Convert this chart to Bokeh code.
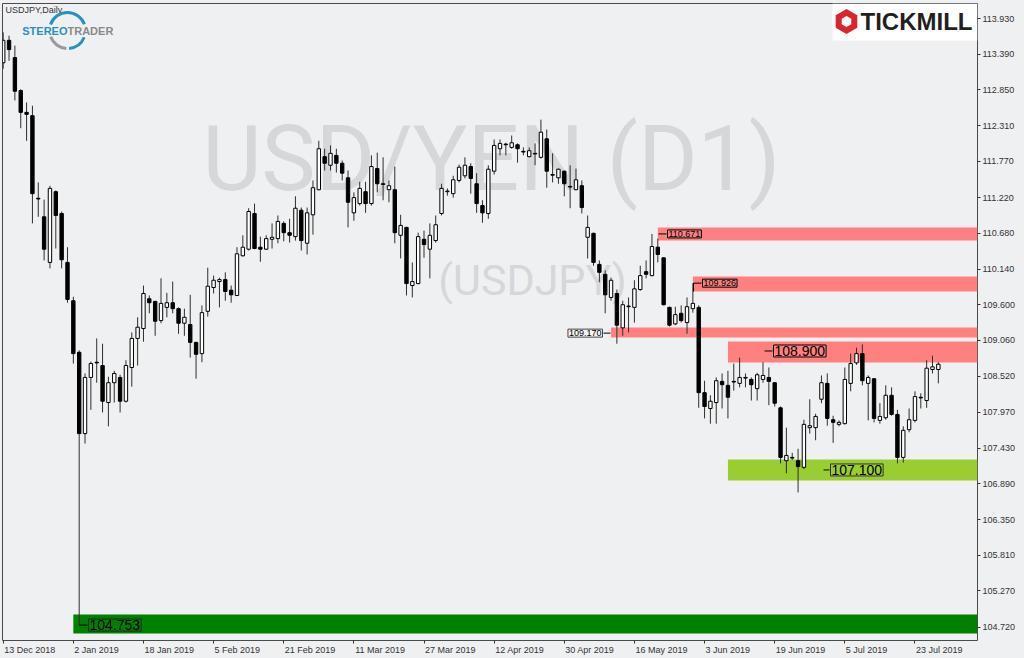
from bokeh.plotting import figure
from bokeh.models import (Range1d, FixedTicker, PrintfTickFormatter, BoxAnnotation, Label,
                          ColumnDataSource, LinearAxis, CustomJSTickFormatter)
from bokeh.core.properties import value
from bokeh.embed import file_html
from bokeh.resources import INLINE

# ---------------- data (USDJPY daily) ----------------
opens = [113.26,113.60,113.34,112.84,112.51,112.46,111.21,110.93,110.24,111.31,
110.98,110.24,109.66,108.88,107.65,108.50,108.73,108.68,108.12,108.42,
108.50,108.14,108.65,109.09,109.24,109.69,109.65,109.36,109.56,109.63,
109.54,109.32,109.30,109.03,108.86,109.50,109.86,109.95,109.98,109.82,
109.74,110.34,110.44,110.98,110.47,110.44,110.59,110.60,110.83,110.69,
110.63,111.03,110.53,110.96,111.34,111.84,111.71,111.86,111.74,111.52,
110.99,111.13,111.31,111.13,111.66,111.43,111.34,111.34,110.65,110.77,
109.89,109.92,110.59,110.44,110.57,110.98,111.31,111.28,111.48,111.55,
111.69,111.43,111.10,110.98,111.62,111.96,112.03,111.98,112.02,111.92,
111.84,111.89,111.83,112.11,111.57,111.52,111.62,111.39,111.34,111.40,
110.62,110.68,110.21,110.06,109.71,109.77,109.25,109.57,109.56,109.83,
110.10,110.04,110.47,110.31,109.56,109.31,109.47,109.33,109.54,109.56,
108.27,108.03,108.12,108.44,108.38,108.44,108.41,108.50,108.47,108.33,
108.47,108.50,108.42,108.04,107.24,107.29,107.24,107.14,107.74,107.74,
108.17,108.41,107.86,107.79,107.80,108.41,108.72,108.86,108.41,108.48,
107.85,107.89,108.23,107.94,107.29,107.71,107.85,108.20,108.15,108.62,
108.62]

highs = [113.72,113.67,113.52,112.86,112.66,112.61,111.45,111.19,111.40,111.33,
111.01,110.47,109.72,108.91,108.56,108.74,109.09,109.01,108.51,108.60,
108.54,108.76,109.18,109.41,109.89,109.74,109.66,110.00,109.78,109.95,
109.56,109.54,109.75,109.04,109.59,110.16,110.04,110.01,110.09,109.89,
110.47,110.65,111.06,111.13,110.63,110.65,110.83,110.95,110.86,110.90,
111.24,111.07,111.07,111.48,112.08,111.96,112.01,111.96,111.78,111.63,
111.30,111.46,111.46,111.86,111.90,111.83,111.48,111.69,110.96,110.78,
110.24,110.69,110.72,110.83,110.95,111.43,111.36,111.55,111.72,111.83,
111.74,111.59,111.18,111.71,112.10,112.10,112.05,112.16,112.04,111.98,
111.98,112.04,112.40,112.25,111.89,111.66,111.63,111.71,111.66,111.48,
110.95,110.69,110.27,110.12,110.01,109.83,109.66,109.71,109.97,110.19,
110.27,110.671,110.60,110.32,109.57,109.57,109.59,109.71,109.926,109.59,
108.45,108.23,108.50,108.56,108.60,108.71,108.80,108.56,108.50,108.57,
108.73,108.65,108.43,108.06,107.74,107.36,107.42,107.86,108.17,107.95,
108.53,108.56,107.92,107.85,108.65,108.86,108.95,109.00,108.53,108.49,
108.11,108.38,108.35,108.01,107.76,108.03,108.29,108.26,108.76,108.83,
108.73]

lows = [113.17,113.29,112.69,112.27,112.08,110.83,110.93,110.27,110.15,110.45,
110.15,109.63,108.71,104.753,107.50,108.01,108.42,107.97,107.76,108.12,
107.97,108.12,108.36,108.68,109.04,109.47,109.13,109.32,109.41,109.47,
109.16,109.13,108.80,108.48,108.73,109.42,109.77,109.56,109.66,109.63,
109.73,110.33,110.42,110.44,110.25,110.43,110.45,110.53,110.56,110.54,
110.57,110.42,110.36,110.66,111.33,111.63,111.63,111.60,111.48,110.77,
110.87,111.10,110.99,111.10,111.30,111.18,111.15,110.53,110.30,109.74,
109.71,109.91,110.31,110.00,110.54,110.95,111.25,111.22,111.45,111.51,
111.28,110.99,110.84,110.90,111.57,111.86,111.86,111.96,111.75,111.86,
111.83,111.71,111.81,111.37,111.45,111.43,111.24,111.06,111.33,110.98,
110.30,110.19,109.94,109.47,109.66,109.01,109.13,109.18,109.33,109.81,
110.00,110.03,110.24,109.59,109.27,109.29,109.33,109.16,109.48,108.04,
107.88,107.80,107.80,108.03,107.88,108.30,108.35,108.35,108.15,108.15,
108.42,108.08,108.06,107.20,107.05,107.25,106.76,107.11,107.65,107.55,
108.11,107.77,107.51,107.76,107.79,108.29,108.69,108.38,107.85,107.82,
107.80,107.86,107.92,107.20,107.21,107.67,107.82,108.03,108.04,108.56,
108.41]

closes = [113.60,113.46,112.83,112.51,112.48,111.28,111.20,110.44,111.36,110.95,
110.28,109.68,108.86,107.65,108.50,108.71,108.72,108.14,108.42,108.56,
108.14,108.68,109.09,109.26,109.77,109.63,109.35,109.62,109.63,109.54,
109.32,109.41,109.03,108.85,109.48,109.88,109.97,109.98,109.80,109.75,
110.37,110.47,111.01,110.45,110.44,110.60,110.62,110.86,110.69,110.65,
111.06,110.57,110.99,111.37,111.96,111.74,111.89,111.74,111.59,111.15,
111.22,111.36,111.13,111.69,111.43,111.42,111.40,110.69,110.80,109.92,
109.95,110.63,110.51,110.65,110.81,111.36,111.32,111.49,111.68,111.71,
111.51,111.13,110.99,111.65,112.01,112.04,112.02,112.05,111.96,111.91,
111.93,111.88,112.21,111.62,111.56,111.65,111.43,111.38,111.49,111.07,
110.77,110.24,110.09,109.75,109.97,109.29,109.60,109.58,109.84,110.04,
110.06,110.48,110.36,109.60,109.29,109.45,109.36,109.57,109.62,108.27,
108.06,108.14,108.45,108.39,108.20,108.43,108.50,108.49,108.39,108.54,
108.53,108.44,108.11,107.29,107.32,107.28,107.15,107.79,107.77,107.91,
108.42,107.88,107.82,107.82,108.47,108.71,108.86,108.45,108.50,107.88,
107.91,108.23,107.94,107.29,107.70,107.86,108.21,108.19,108.64,108.66,
108.70]

date_ticks = [0, 12, 24, 36, 48, 60, 72, 84, 96, 108, 120, 132, 144, 156]
date_labels = ["13 Dec 2018", "2 Jan 2019", "18 Jan 2019", "5 Feb 2019", "21 Feb 2019",
               "11 Mar 2019", "27 Mar 2019", "12 Apr 2019", "30 Apr 2019", "16 May 2019",
               "3 Jun 2019", "19 Jun 2019", "5 Jul 2019", "23 Jul 2019"]
price_ticks = [113.930, 113.390, 112.850, 112.310, 111.770, 111.220, 110.680, 110.140,
               109.600, 109.060, 108.520, 107.970, 107.430, 106.890, 106.350, 105.810,
               105.270, 104.720]

# zones: (start bar, bottom price, top price, kind)
zone_start = [112, 118, 104, 124, 124, 12]
zone_bottom = [110.571, 109.800, 109.104, 108.726, 106.940, 104.626]
zone_top = [110.768, 110.027, 109.255, 109.043, 107.258, 104.913]
zone_kind = ["res", "res", "res", "res", "sup", "low"]

# price labels
level_values = [110.671, 109.926, 109.170, 108.900, 107.100, 104.753]

# ---------------- geometry helpers (page pixels -> data) ----------------
W, H = 1024, 658
FL, FT, FR, FB = 2, 3, 977, 640
X0, X1 = -0.12, 166.7
Y0, Y1 = 104.52, 114.157
BAR_PX = (FR - FL) / (X1 - X0)

def xd(px):
    return X0 + (px - FL) / (FR - FL) * (X1 - X0)

def yd(py):
    return Y1 - (py - FT) / (FB - FT) * (Y1 - Y0)

# approximate Liberation Sans advance widths (per em) to left-align date labels
CW = {c: 0.556 for c in "0123456789abdenpu"}
CW.update({" ": 0.278, "D": 0.722, "c": 0.5, "J": 0.5, "F": 0.611, "M": 0.833,
           "r": 0.333, "A": 0.667, "y": 0.5, "l": 0.222})

def text_w(s, size):
    return sum(CW.get(ch, 0.556) for ch in s) * size

BG = "#eff0f2"
PINK = "#ff8080"
LIME = "#9acd32"
DGREEN = "#008000"
FONT = "Liberation Sans"
AXFS = 9

p = figure(width=W, height=H, x_range=Range1d(X0, X1), y_range=Range1d(Y0, Y1),
           output_backend="svg", toolbar_location=None, y_axis_location="right",
           min_border_left=FL, min_border_top=FT, min_border_right=W - FR,
           min_border_bottom=H - FB)
p.background_fill_color = BG
p.border_fill_color = BG
p.outline_line_color = "#4a4a4a"
p.xgrid.visible = False
p.ygrid.visible = False

yax = p.yaxis[0]
yax.ticker = FixedTicker(ticks=price_ticks)
yax.formatter = PrintfTickFormatter(format="%.3f")
yax.major_tick_in = 0
yax.major_tick_out = 3
yax.minor_tick_line_color = None
yax.axis_line_color = None
yax.major_tick_line_color = "#333333"
yax.major_label_standoff = 2
yax.major_label_text_font = FONT
yax.major_label_text_font_size = f"{AXFS}px"
yax.major_label_text_color = "#333333"

# bottom axis 1: tick marks only
xax = p.xaxis[0]
xax.ticker = FixedTicker(ticks=date_ticks)
xax.formatter = CustomJSTickFormatter(code="return '';")
xax.major_tick_in = 0
xax.major_tick_out = 3
xax.minor_tick_line_color = None
xax.axis_line_color = None
xax.major_tick_line_color = "#333333"
xax.major_label_standoff = 0
xax.major_label_text_font_size = "0px"

# bottom axis 2: labels that start just right of each tick (MT4 style)
label_pos = [t + (1 + text_w(l, AXFS) / 2) / BAR_PX for t, l in zip(date_ticks, date_labels)]
lab_ax = LinearAxis(
    ticker=FixedTicker(ticks=label_pos),
    formatter=CustomJSTickFormatter(args=dict(pos=label_pos, labels=date_labels), code="""
        let best = 0;
        for (let k = 0; k < pos.length; k++) {
            if (Math.abs(pos[k] - tick) < Math.abs(pos[best] - tick)) best = k;
        }
        return labels[best];
    """),
    major_tick_in=0, major_tick_out=0, minor_tick_in=0, minor_tick_out=0,
    major_tick_line_color=None, minor_tick_line_color=None, axis_line_color=None,
    major_label_standoff=1, major_label_text_font=FONT,
    major_label_text_font_size=f"{AXFS}px", major_label_text_color="#333333")
p.add_layout(lab_ax, "below")

# zones (behind the candles)
kind_color = {"res": PINK, "sup": LIME, "low": DGREEN}
for s, b, t, k in zip(zone_start, zone_bottom, zone_top, zone_kind):
    p.add_layout(BoxAnnotation(left=s, bottom=b, top=t, fill_color=kind_color[k],
                               fill_alpha=1.0, line_color=None, level="underlay"))

# Tickmill logo box
p.add_layout(BoxAnnotation(left=xd(832), bottom=yd(40), fill_color="white", fill_alpha=1.0,
                           line_color=None, level="underlay"))

# watermarks
p.text(x=[xd(491)], y=[yd(158)], text=["USD/YEN (D1)"], text_font=value("Roboto"),
       text_font_size="91px", text_color="#d6d7d9", text_align="center",
       text_baseline="middle")
p.text(x=[xd(532)], y=[yd(279)], text=["(USDJPY)"], text_font=value("Roboto"),
       text_font_size="43px", text_color="#d6d7d9", text_align="center",
       text_baseline="middle")

# candles
idx = list(range(len(opens)))
bull = [i for i in idx if closes[i] >= opens[i]]
bear = [i for i in idx if closes[i] < opens[i]]
p.segment(x0=idx, y0=lows, x1=idx, y1=highs, line_color="#2e2e2e", line_width=1)
bull_src = ColumnDataSource(dict(x=bull, top=[closes[i] for i in bull],
                                 bottom=[opens[i] for i in bull]))
bear_src = ColumnDataSource(dict(x=bear, top=[opens[i] for i in bear],
                                 bottom=[closes[i] for i in bear]))
p.vbar(x="x", top="top", bottom="bottom", width=0.58, source=bull_src,
       fill_color="white", line_color="black", line_width=1)
p.vbar(x="x", top="top", bottom="bottom", width=0.58, source=bear_src,
       fill_color="black", line_color="black", line_width=1)

# price labels with leader lines
lead_x0 = [xd(658), xd(693), xd(603), xd(764), xd(823), 13]
lead_x1 = [xd(666), xd(701), xd(610), xd(772), xd(829), xd(87)]
p.segment(x0=lead_x0, y0=level_values, x1=lead_x1, y1=level_values,
          line_color="black", line_width=1)
p.segment(x0=[xd(693)], y0=[zone_bottom[1]], x1=[xd(693)], y1=[level_values[1]],
          line_color="black", line_width=1)

lab_specs = [
    (xd(667), "left", PINK, "9px", "black"),
    (xd(702), "left", PINK, "9px", "black"),
    (xd(602), "right", "#f6f6f6", "9px", "#444444"),
    (xd(773), "left", PINK, "14px", "black"),
    (xd(830), "left", LIME, "14px", "#333333"),
    (xd(88), "left", DGREEN, "14px", "#222222"),
]
for lv, (lx, al, fc, fs, bc) in zip(level_values, lab_specs):
    p.add_layout(Label(x=lx, y=lv, text=f"{lv:.3f}", text_align=al, text_baseline="middle",
                       text_font=FONT, text_font_size=fs, text_color="black",
                       background_fill_color=fc, border_line_color=bc, border_line_width=1,
                       padding=1))

# header text
p.text(x=[xd(5)], y=[yd(9)], text=["USDJPY,Daily"], text_font=value(FONT),
       text_font_size="9px", text_color="#333333", text_align="left", text_baseline="middle")

# StereoTrader logo
p.arc(x=[xd(67)], y=[yd(30)], radius=18, radius_units="screen", start_angle=0.35,
      end_angle=2.8, line_color="#2a8fc1", line_width=3)
p.arc(x=[xd(67)], y=[yd(30)], radius=18, radius_units="screen", start_angle=3.5,
      end_angle=4.65, line_color="#9a9a9a", line_width=3)
p.arc(x=[xd(67)], y=[yd(30)], radius=18, radius_units="screen", start_angle=4.8,
      end_angle=5.9, line_color="#2a8fc1", line_width=3)
p.text(x=[xd(67)], y=[yd(30)], text=["STEREO"], text_font=value(FONT),
       text_font_size="11px", text_font_style="bold", text_color="#2a8fc1",
       text_align="right", text_baseline="middle")
p.text(x=[xd(67)], y=[yd(30)], text=["TRADER"], text_font=value(FONT),
       text_font_size="11px", text_font_style="bold", text_color="#8a8a8a",
       text_align="left", text_baseline="middle")

# Tickmill logo
p.scatter(x=[xd(846)], y=[yd(21)], marker="hex", size=25, angle=0.5236,
          fill_color="#d8262f", line_color=None)
p.scatter(x=[xd(846)], y=[yd(21)], marker="hex", size=11, angle=0.5236,
          fill_color="white", line_color=None)
p.text(x=[xd(860)], y=[yd(21)], text=["TICKMILL"], text_font=value(FONT),
       text_font_size="24px", text_font_style="bold", text_color="#231f20",
       text_align="left", text_baseline="middle")

html = file_html(p, INLINE, title="USDJPY Daily")
html = html.replace("</head>", "<style>html,body{margin:0;padding:0;overflow:hidden;background:#eff0f2;}</style></head>", 1)
open("out.html", "w").write(html)
